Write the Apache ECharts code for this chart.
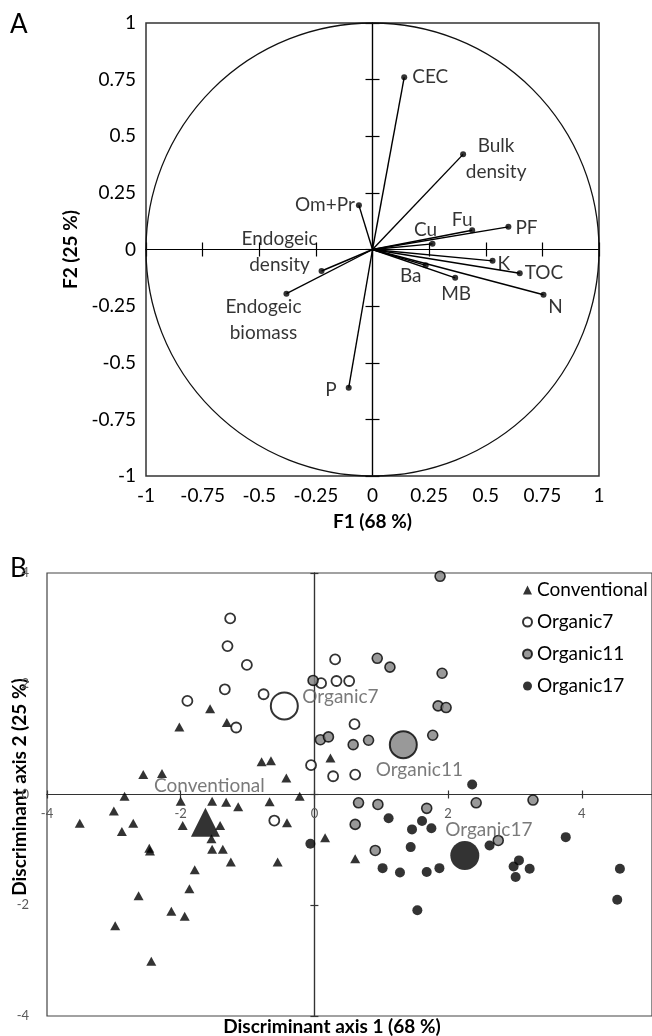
<!DOCTYPE html>
<html>
<head>
<meta charset="utf-8">
<script src="https://cdn.jsdelivr.net/npm/echarts@6/dist/echarts.min.js"></script>
<style>
  html, body { margin: 0; padding: 0; background: #fff; }
  #chart { width: 652px; height: 1036px; }
</style>
</head>
<body>
<div id="chart"></div>
<script>
// ---------- Panel A: correlation circle of the variables on F1 / F2 ----------
const variableNames = ['CEC', 'Bulk\ndensity', 'Om+Pr', 'Cu', 'Fu', 'PF', 'K', 'TOC', 'N', 'MB', 'Ba', 'P',
  'Endogeic\ndensity', 'Endogeic\nbiomass'];
const loadingF1 = [0.14, 0.40, -0.06, 0.265, 0.44, 0.60, 0.53, 0.65, 0.755, 0.365, 0.235, -0.105, -0.225, -0.38];
const loadingF2 = [0.76, 0.42, 0.195, 0.025, 0.085, 0.10, -0.05, -0.105, -0.20, -0.125, -0.07, -0.61, -0.095, -0.195];
const loadingTicks = [-1, -0.75, -0.5, -0.25, 0, 0.25, 0.5, 0.75, 1];
const correlationRadius = 1;

// ---------- Panel B: discriminant scores per farming system ----------
const discriminantTicks = [-4, -2, 0, 2, 4];
const conventional = [
  [-2.56, 0.36], [-2.28, 0.38], [-2.84, -0.03], [-3.00, -0.30], [-2.71, -0.52], [-2.88, -0.67],
  [-3.51, -0.52], [-2.47, -0.97], [-2.46, -1.02], [-2.00, -0.12], [-1.97, -0.56], [-1.53, -0.12],
  [-1.32, -0.14], [-1.14, -0.22], [-1.41, -0.56], [-1.54, -0.80], [-1.53, -0.99], [-1.37, -0.99],
  [-1.25, -1.22], [-0.55, -1.22], [-1.79, -1.36], [-1.87, -1.70], [-2.63, -1.83], [-2.14, -2.11],
  [-1.94, -2.20], [-2.98, -2.37], [-2.44, -3.01], [-0.67, -0.13], [-0.41, -0.51], [-0.42, 0.30],
  [-0.22, -0.03], [0.16, -0.78], [0.61, -1.16], [0.24, 0.66], [-0.79, 0.59], [-0.65, 0.61],
  [-1.56, 1.55], [-2.02, 1.22], [-1.31, 1.30]
];
const organic7 = [
  [-1.26, 3.18], [-1.30, 2.68], [-1.01, 2.34], [-1.34, 1.90], [-0.76, 1.81], [-1.90, 1.69],
  [-1.17, 1.21], [0.10, 2.01], [-0.05, 0.53], [0.31, 2.44], [0.33, 2.05], [0.52, 2.05],
  [0.60, 1.27], [0.28, 0.33], [0.61, 0.36], [-0.60, -0.47]
];
const organic11 = [
  [1.88, 3.94], [0.94, 2.46], [1.13, 2.30], [1.91, 2.19], [-0.02, 2.06], [1.85, 1.60],
  [1.97, 1.57], [0.09, 0.99], [0.21, 1.04], [0.58, 0.90], [0.81, 0.98], [1.77, 1.07],
  [0.66, -0.15], [0.95, -0.18], [1.68, -0.25], [2.42, -0.15], [3.27, -0.10], [0.61, -0.54],
  [0.91, -1.01], [2.75, -0.83]
];
const organic17 = [
  [2.36, 0.18], [-0.06, -0.89], [1.11, -0.43], [1.61, -0.48], [1.46, -0.63], [1.75, -0.61],
  [1.44, -0.95], [1.02, -1.33], [1.28, -1.41], [1.68, -1.40], [1.87, -1.33], [2.62, -0.92],
  [3.76, -0.77], [3.06, -1.19], [2.98, -1.30], [3.22, -1.34], [3.01, -1.49], [4.57, -1.34],
  [4.53, -1.90], [1.54, -2.09]
];
const groupNames = ['Conventional', 'Organic7', 'Organic11', 'Organic17'];
const groupCentroids = [[-1.63, -0.50], [-0.45, 1.60], [1.33, 0.90], [2.25, -1.10]];

// ---------- styling ----------
const FONT = 'Lato';
const INK = '#000';
const GREY_TEXT = '#595959';

// where each variable name sits around its arrow tip (pixels from the tip)
const variableLabelPlacement = {
  'CEC': { align: 'left', offset: [8, 0] },
  'Bulk\ndensity': { align: 'center', offset: [33, 5] },
  'Om+Pr': { align: 'right', offset: [-4, 0] },
  'Cu': { align: 'center', offset: [-7, -14] },
  'Fu': { align: 'center', offset: [-10, -10] },
  'PF': { align: 'left', offset: [7, 1] },
  'K': { align: 'left', offset: [5, 3] },
  'TOC': { align: 'left', offset: [5, 0] },
  'N': { align: 'center', offset: [12, 12] },
  'MB': { align: 'center', offset: [1, 16] },
  'Ba': { align: 'center', offset: [-15, 11] },
  'P': { align: 'right', offset: [-12, 2] },
  'Endogeic\ndensity': { align: 'center', offset: [-42, -19] },
  'Endogeic\nbiomass': { align: 'center', offset: [-23, 26] }
};
const centroidLabelPlacement = [
  { align: 'center', offset: [4, -36] },
  { align: 'left', offset: [18, -9] },
  { align: 'center', offset: [16, 25] },
  { align: 'center', offset: [24, -26] }
];
const groupStyles = [
  { symbol: 'triangle', size: [10, 9], bigSize: 29, itemStyle: { color: '#000' } },
  { symbol: 'circle', size: 10, bigSize: 27, itemStyle: { color: '#fff', borderColor: '#000', borderWidth: 1.8 } },
  { symbol: 'circle', size: 10, bigSize: 27, itemStyle: { color: '#808080', borderColor: '#000', borderWidth: 1.6 } },
  { symbol: 'circle', size: 10, bigSize: 29, itemStyle: { color: '#000' } }
];
const groupPoints = [conventional, organic7, organic11, organic17];

const loadStep = loadingTicks[1] - loadingTicks[0];
const loadMin = loadingTicks[0];
const loadMax = loadingTicks[loadingTicks.length - 1];
const discStep = discriminantTicks[1] - discriminantTicks[0];
const discMin = discriminantTicks[0];
const discMaxY = discriminantTicks[discriminantTicks.length - 1];
const discMaxX = 5.05;

const tickLabelA = { fontFamily: FONT, fontSize: 19, color: INK };
const tickLabelB = { fontFamily: FONT, fontSize: 13, color: GREY_TEXT };

// base axis of a grid: carries the scale (and, for panel A, the labels on the frame)
function baseAxis(gridIndex, dim, min, max, step, label) {
  return {
    type: 'value', gridIndex, min, max, interval: step,
    position: dim === 'x' ? 'bottom' : 'left',
    axisLine: { show: false, onZero: false },
    axisTick: { show: false },
    splitLine: { show: false },
    axisLabel: label || { show: false }
  };
}
// axis drawn through the origin; used twice so the ticks cross the line
function zeroAxis(gridIndex, otherIndex, dim, inside, min, max, step, color, tickLen, label) {
  return {
    type: 'value', gridIndex, min, max, interval: step,
    position: dim === 'x' ? 'bottom' : 'left',
    axisLine: { show: true, onZero: true, onZeroAxisIndex: otherIndex, lineStyle: { color, width: 1.2 } },
    axisTick: { show: true, inside, length: tickLen, lineStyle: { color, width: 1.2 } },
    splitLine: { show: false },
    axisLabel: label || { show: false }
  };
}

const labelA = Object.assign({ margin: 10, showMinLabel: true, showMaxLabel: true }, tickLabelA);
const labelBx = Object.assign({ margin: 11, showMinLabel: true, showMaxLabel: false }, tickLabelB);
const labelBy = Object.assign({ margin: 18, showMinLabel: true, showMaxLabel: true }, tickLabelB);

const xAxes = [
  Object.assign(baseAxis(0, 'x', loadMin, loadMax, loadStep, labelA), {
    name: 'F1 (68 %)', nameLocation: 'middle', nameGap: 36,
    nameTextStyle: { fontFamily: FONT, fontWeight: 'bold', fontSize: 19, color: INK }
  }),
  zeroAxis(0, 0, 'x', false, loadMin, loadMax, loadStep, '#000', 7),
  zeroAxis(0, 0, 'x', true, loadMin, loadMax, loadStep, '#000', 7),
  // panel B labels ride on the base axis, shifted up onto the zero line once the layout is known
  baseAxis(1, 'x', discMin, discMaxX, discStep, labelBx),
  zeroAxis(1, 3, 'x', false, discMin, discMaxX, discStep, '#333', 4),
  zeroAxis(1, 3, 'x', true, discMin, discMaxX, discStep, '#333', 4)
];
const yAxes = [
  Object.assign(baseAxis(0, 'y', loadMin, loadMax, loadStep, labelA), {
    name: 'F2 (25 %)', nameLocation: 'middle', nameGap: 54, nameRotate: 90,
    nameTextStyle: { fontFamily: FONT, fontWeight: 'bold', fontSize: 19, color: INK }
  }),
  zeroAxis(0, 0, 'y', false, loadMin, loadMax, loadStep, '#000', 7),
  zeroAxis(0, 0, 'y', true, loadMin, loadMax, loadStep, '#000', 7),
  baseAxis(1, 'y', discMin, discMaxY, discStep),
  zeroAxis(1, 3, 'y', false, discMin, discMaxY, discStep, '#333', 4, labelBy),
  zeroAxis(1, 3, 'y', true, discMin, discMaxY, discStep, '#333', 4)
];

const loadingPoints = loadingF1.map((x, i) => [x, loadingF2[i]]);

const series = [
  {
    // unit correlation circle
    type: 'custom', xAxisIndex: 0, yAxisIndex: 0, silent: true, z: 3,
    data: [[0, 0]],
    renderItem: function (params, api) {
      const c = api.coord([0, 0]);
      const e = api.coord([correlationRadius, 0]);
      return { type: 'circle', shape: { cx: c[0], cy: c[1], r: e[0] - c[0] },
        style: { fill: 'none', stroke: '#111', lineWidth: 1.3 } };
    }
  },
  {
    // arrows from the origin to each loading
    type: 'custom', xAxisIndex: 0, yAxisIndex: 0, silent: true, z: 4,
    data: loadingPoints,
    renderItem: function (params, api) {
      const o = api.coord([0, 0]);
      const p = api.coord([api.value(0), api.value(1)]);
      return { type: 'line', shape: { x1: o[0], y1: o[1], x2: p[0], y2: p[1] },
        style: { stroke: '#000', lineWidth: 1.4 } };
    }
  },
  {
    type: 'scatter', xAxisIndex: 0, yAxisIndex: 0, z: 5, silent: true,
    symbol: 'circle', symbolSize: 6, itemStyle: { color: '#000' },
    label: { show: true, position: 'inside', fontFamily: FONT, fontSize: 19, color: INK, lineHeight: 26,
      formatter: p => p.name },
    data: loadingPoints.map((v, i) => ({
      name: variableNames[i], value: v,
      label: variableLabelPlacement[variableNames[i]]
    }))
  }
];

groupPoints.forEach((pts, g) => {
  const st = groupStyles[g];
  series.push({
    type: 'scatter', name: groupNames[g], xAxisIndex: 3, yAxisIndex: 3, z: 5 + g,
    symbol: st.symbol, symbolSize: st.size, itemStyle: st.itemStyle, data: pts
  });
});
groupCentroids.forEach((c, g) => {
  const st = groupStyles[g];
  series.push({
    type: 'scatter', name: groupNames[g] + ' mean', xAxisIndex: 3, yAxisIndex: 3, z: 10,
    symbol: st.symbol, symbolSize: st.bigSize,
    itemStyle: Object.assign({}, st.itemStyle, st.itemStyle.borderWidth ? { borderWidth: 2 } : {}),
    label: Object.assign({ show: true, position: 'inside', fontFamily: FONT, fontSize: 19, color: GREY_TEXT,
      formatter: groupNames[g] }, centroidLabelPlacement[g]),
    data: [c]
  });
});

const chart = echarts.init(document.getElementById('chart'), null, { renderer: 'canvas' });
chart.setOption({
  backgroundColor: '#fff',
  animation: false,
  grid: [
    { left: 146, top: 23, width: 453, height: 453, show: true, borderColor: '#333', borderWidth: 1.5,
      backgroundColor: 'transparent', containLabel: false },
    { left: 47, top: 573, width: 608, height: 443, show: true, borderColor: '#444', borderWidth: 1.2,
      backgroundColor: 'transparent', containLabel: false }
  ],
  xAxis: xAxes,
  yAxis: yAxes,
  legend: {
    data: groupNames, orient: 'vertical', left: 517, top: 575,
    itemWidth: 9, itemHeight: 9, itemGap: 12,
    textStyle: { fontFamily: FONT, fontSize: 19, color: INK, lineHeight: 20 },
    selectedMode: false
  },
  graphic: [
    { type: 'text', left: 10, top: 12, style: { text: 'A', font: '26px Lato', fill: INK } },
    { type: 'text', left: 10, top: 556, style: { text: 'B', font: '26px Lato', fill: INK } },
    { type: 'text', x: 332, y: 1027, style: { text: 'Discriminant axis 1 (68 %)', font: 'bold 19px Lato',
      fill: INK, align: 'center', verticalAlign: 'middle' } },
    { type: 'text', x: 20, y: 787, rotation: Math.PI / 2, style: { text: 'Discriminant axis 2 (25 %)',
      font: 'bold 19px Lato', fill: INK, align: 'center', verticalAlign: 'middle' } }
  ],
  series: series
});

// move the panel B x labels from the frame bottom up to the y = 0 line
const zeroPx = chart.convertToPixel({ xAxisIndex: 3, yAxisIndex: 3 }, [0, 0]);
const bottomPx = chart.convertToPixel({ xAxisIndex: 3, yAxisIndex: 3 }, [0, discMin]);
const shifted = xAxes.map(() => ({}));
shifted[3] = { offset: zeroPx[1] - bottomPx[1] };
chart.setOption({ xAxis: shifted });
</script>
</body>
</html>
